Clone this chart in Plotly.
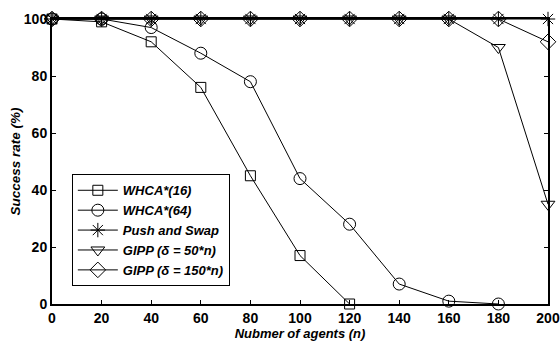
import plotly.graph_objects as go

agents = [0, 20, 40, 60, 80, 100, 120, 140, 160, 180, 200]

whca16_x = [0, 20, 40, 60, 80, 100, 120]
whca16_y = [100, 99, 92, 76, 45, 17, 0]

whca64_x = [0, 20, 40, 60, 80, 100, 120, 140, 160, 180]
whca64_y = [100, 100, 97, 88, 78, 44, 28, 7, 1, 0]

push_swap_y = [100, 100, 100, 100, 100, 100, 100, 100, 100, 100, 100]
gipp50_y = [100, 100, 100, 100, 100, 100, 100, 100, 100, 90, 35]
gipp150_y = [100, 100, 100, 100, 100, 100, 100, 100, 100, 100, 92]

x_ticks = [0, 20, 40, 60, 80, 100, 120, 140, 160, 180, 200]
y_ticks = [0, 20, 40, 60, 80, 100]

series = [
    ("WHCA*(16)", whca16_x, whca16_y, "square-open", 10),
    ("WHCA*(64)", whca64_x, whca64_y, "circle-open", 12),
    ("Push and Swap", agents, push_swap_y, "asterisk-open", 12),
    ("GIPP (δ = 50*n)", agents, gipp50_y, "triangle-down-open", 12),
    ("GIPP (δ = 150*n)", agents, gipp150_y, "diamond-open", 12),
]

fig = go.Figure()
for name, xs, ys, sym, sz in series:
    fig.add_trace(go.Scatter(
        x=xs, y=ys, mode="lines+markers",
        name="<b><i>" + name + "</i></b>",
        line=dict(color="black", width=1),
        marker=dict(symbol=sym, size=sz, color="black", line=dict(width=1, color="black")),
        cliponaxis=False,
    ))

font_family = "Liberation Sans, Arial, sans-serif"
fig.update_layout(
    width=560, height=341,
    margin=dict(l=52, r=12, t=19, b=37),
    plot_bgcolor="white", paper_bgcolor="white",
    font=dict(family=font_family, size=13, color="black"),
    showlegend=True,
    legend=dict(
        x=0.04, y=0.455, xanchor="left", yanchor="top",
        bordercolor="black", borderwidth=1, bgcolor="white",
        font=dict(size=13, family=font_family),
        tracegroupgap=0, itemwidth=40,
    ),
    xaxis=dict(
        range=[0, 200], tickvals=x_ticks,
        ticktext=["<b>%d</b>" % v for v in x_ticks],
        ticks="inside", ticklen=4, tickcolor="black",
        showline=True, linecolor="black", linewidth=2, mirror="ticks",
        showgrid=False, zeroline=False, automargin=False,
        tickfont=dict(size=14),
        title=dict(text="<b><i>Nubmer of agents (n)</i></b>", font=dict(size=13), standoff=2),
    ),
    yaxis=dict(
        range=[0, 100], tickvals=y_ticks,
        ticktext=["<b>%d</b>" % v for v in y_ticks],
        ticks="inside", ticklen=4, tickcolor="black",
        showline=True, linecolor="black", linewidth=2, mirror="ticks",
        showgrid=False, zeroline=False, automargin=False,
        tickfont=dict(size=14),
        title=dict(text="<b><i>Success rate (%)</i></b>", font=dict(size=13.5), standoff=0),
    ),
)

fig.write_html("out.html")
